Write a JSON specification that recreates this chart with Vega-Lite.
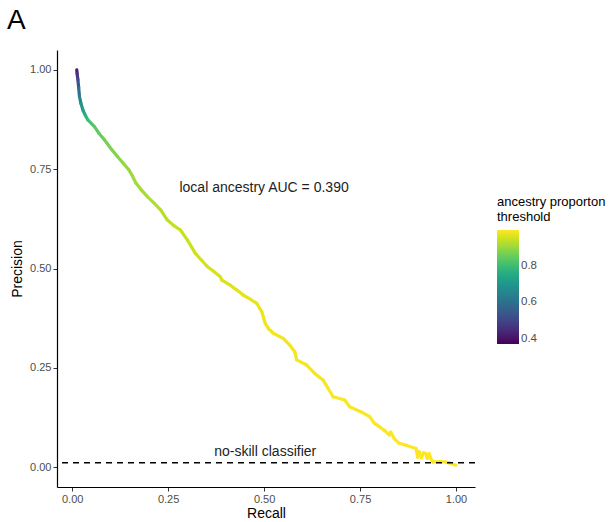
{
  "$schema": "https://vega.github.io/schema/vega-lite/v6.json",
  "width": 418,
  "height": 437,
  "autosize": {"type": "none"},
  "padding": {"left": 57, "top": 50, "right": 138, "bottom": 35},
  "background": "white",
  "config": {
    "font": "Liberation Sans",
    "view": {"stroke": null},
    "axis": {"grid": false, "domainColor": "black", "domainWidth": 1.2, "tickColor": "#333333", "tickSize": 4, "labelColor": "#4d4d4d", "labelFontSize": 11, "labelFont": "Liberation Sans", "titleFont": "Liberation Sans", "titleFontSize": 14, "titleFontWeight": "normal", "titleColor": "black"}
  },
  "title": {"text": "A", "anchor": "start", "frame": "group", "dx": -50, "dy": 28, "offset": 21, "baseline": "alphabetic", "fontSize": 28, "fontWeight": "normal", "font": "Liberation Sans", "color": "black"},
  "layer": [
    {
      "data": {"values": [
        {"recall": 0.012, "precision": 1.000, "threshold": 0.42},
        {"recall": 0.013, "precision": 0.990, "threshold": 0.47},
        {"recall": 0.015, "precision": 0.975, "threshold": 0.53},
        {"recall": 0.017, "precision": 0.955, "threshold": 0.60},
        {"recall": 0.019, "precision": 0.933, "threshold": 0.65},
        {"recall": 0.023, "precision": 0.915, "threshold": 0.70},
        {"recall": 0.028, "precision": 0.899, "threshold": 0.74},
        {"recall": 0.034, "precision": 0.886, "threshold": 0.78},
        {"recall": 0.041, "precision": 0.874, "threshold": 0.81},
        {"recall": 0.050, "precision": 0.865, "threshold": 0.83},
        {"recall": 0.058, "precision": 0.857, "threshold": 0.84},
        {"recall": 0.070, "precision": 0.840, "threshold": 0.855},
        {"recall": 0.084, "precision": 0.824, "threshold": 0.87},
        {"recall": 0.100, "precision": 0.803, "threshold": 0.88},
        {"recall": 0.118, "precision": 0.782, "threshold": 0.89},
        {"recall": 0.133, "precision": 0.765, "threshold": 0.90},
        {"recall": 0.148, "precision": 0.748, "threshold": 0.905},
        {"recall": 0.157, "precision": 0.733, "threshold": 0.91},
        {"recall": 0.166, "precision": 0.715, "threshold": 0.915},
        {"recall": 0.180, "precision": 0.698, "threshold": 0.92},
        {"recall": 0.196, "precision": 0.681, "threshold": 0.925},
        {"recall": 0.214, "precision": 0.664, "threshold": 0.93},
        {"recall": 0.231, "precision": 0.647, "threshold": 0.935},
        {"recall": 0.248, "precision": 0.622, "threshold": 0.94},
        {"recall": 0.265, "precision": 0.608, "threshold": 0.945},
        {"recall": 0.282, "precision": 0.597, "threshold": 0.948},
        {"recall": 0.300, "precision": 0.572, "threshold": 0.95},
        {"recall": 0.321, "precision": 0.538, "threshold": 0.955},
        {"recall": 0.336, "precision": 0.522, "threshold": 0.958},
        {"recall": 0.352, "precision": 0.505, "threshold": 0.96},
        {"recall": 0.370, "precision": 0.492, "threshold": 0.962},
        {"recall": 0.386, "precision": 0.479, "threshold": 0.965},
        {"recall": 0.390, "precision": 0.471, "threshold": 0.967},
        {"recall": 0.412, "precision": 0.458, "threshold": 0.97},
        {"recall": 0.430, "precision": 0.445, "threshold": 0.972},
        {"recall": 0.446, "precision": 0.433, "threshold": 0.975},
        {"recall": 0.465, "precision": 0.422, "threshold": 0.977},
        {"recall": 0.481, "precision": 0.412, "threshold": 0.98},
        {"recall": 0.494, "precision": 0.391, "threshold": 0.982},
        {"recall": 0.503, "precision": 0.362, "threshold": 0.985},
        {"recall": 0.512, "precision": 0.348, "threshold": 0.987},
        {"recall": 0.524, "precision": 0.337, "threshold": 0.988},
        {"recall": 0.550, "precision": 0.324, "threshold": 0.99},
        {"recall": 0.567, "precision": 0.307, "threshold": 0.99},
        {"recall": 0.580, "precision": 0.290, "threshold": 0.99},
        {"recall": 0.585, "precision": 0.270, "threshold": 0.992},
        {"recall": 0.611, "precision": 0.257, "threshold": 0.992},
        {"recall": 0.632, "precision": 0.236, "threshold": 0.993},
        {"recall": 0.654, "precision": 0.219, "threshold": 0.994},
        {"recall": 0.667, "precision": 0.198, "threshold": 0.995},
        {"recall": 0.680, "precision": 0.177, "threshold": 0.995},
        {"recall": 0.710, "precision": 0.169, "threshold": 0.996},
        {"recall": 0.723, "precision": 0.152, "threshold": 0.997},
        {"recall": 0.753, "precision": 0.139, "threshold": 0.997},
        {"recall": 0.775, "precision": 0.127, "threshold": 0.998},
        {"recall": 0.788, "precision": 0.110, "threshold": 0.998},
        {"recall": 0.800, "precision": 0.102, "threshold": 0.999},
        {"recall": 0.813, "precision": 0.093, "threshold": 0.999},
        {"recall": 0.826, "precision": 0.081, "threshold": 0.999},
        {"recall": 0.830, "precision": 0.088, "threshold": 0.999},
        {"recall": 0.839, "precision": 0.072, "threshold": 1.0},
        {"recall": 0.852, "precision": 0.060, "threshold": 1.0},
        {"recall": 0.870, "precision": 0.055, "threshold": 1.0},
        {"recall": 0.896, "precision": 0.047, "threshold": 1.0},
        {"recall": 0.900, "precision": 0.025, "threshold": 1.0},
        {"recall": 0.904, "precision": 0.039, "threshold": 1.0},
        {"recall": 0.910, "precision": 0.024, "threshold": 1.0},
        {"recall": 0.915, "precision": 0.036, "threshold": 1.0},
        {"recall": 0.921, "precision": 0.034, "threshold": 1.0},
        {"recall": 0.925, "precision": 0.022, "threshold": 1.0},
        {"recall": 0.930, "precision": 0.034, "threshold": 1.0},
        {"recall": 0.935, "precision": 0.020, "threshold": 1.0},
        {"recall": 0.940, "precision": 0.013, "threshold": 1.0},
        {"recall": 0.960, "precision": 0.014, "threshold": 1.0},
        {"recall": 0.973, "precision": 0.013, "threshold": 1.0},
        {"recall": 0.985, "precision": 0.010, "threshold": 1.0},
        {"recall": 1.000, "precision": 0.005, "threshold": 1.0}
      ]},
      "transform": [
        {"window": [{"op": "lead", "field": "recall", "as": "recall2"}, {"op": "lead", "field": "precision", "as": "precision2"}]},
        {"filter": "datum.recall2 != null"}
      ],
      "mark": {"type": "rule", "strokeWidth": 3.2, "strokeCap": "round"},
      "encoding": {
        "x": {"field": "recall", "type": "quantitative", "title": "Recall",
              "scale": {"domain": [-0.0395, 1.0495], "nice": false, "zero": false},
              "axis": {"values": [0, 0.25, 0.5, 0.75, 1], "format": ".2f", "labelPadding": 2, "titlePadding": 2}},
        "y": {"field": "precision", "type": "quantitative", "title": "Precision",
              "scale": {"domain": [-0.05, 1.05], "nice": false, "zero": false},
              "axis": {"values": [0, 0.25, 0.5, 0.75, 1], "format": ".2f", "labelPadding": 2, "titlePadding": 5}},
        "x2": {"field": "recall2"},
        "y2": {"field": "precision2"},
        "color": {"field": "threshold", "type": "quantitative", "title": ["ancestry proporton", "threshold"],
                  "scale": {"scheme": "viridis", "domain": [0.37, 1.0], "nice": false, "zero": false},
                  "legend": {"orient": "none", "legendX": 440, "legendY": 146, "values": [0.4, 0.6, 0.8], "gradientLength": 114, "gradientThickness": 22, "labelOverlap": false, "labelFontSize": 11.5, "labelColor": "#4d4d4d", "titleFontSize": 13, "titleFontWeight": "normal", "titleColor": "black", "titleFont": "Liberation Sans", "labelFont": "Liberation Sans", "titlePadding": 6, "titleLineHeight": 15, "gradientStrokeWidth": 0, "titleLimit": 200}}
      }
    },
    {
      "data": {"values": [{"noskill": 0.011}]},
      "mark": {"type": "rule", "strokeDash": [6, 5], "strokeWidth": 1.3, "color": "black"},
      "encoding": {"y": {"field": "noskill", "type": "quantitative"}}
    },
    {
      "data": {"values": [
        {"x": 0.500, "y": 0.703, "label": "local ancestry AUC = 0.390"},
        {"x": 0.503, "y": 0.038, "label": "no-skill classifier"}
      ]},
      "mark": {"type": "text", "fontSize": 14, "font": "Liberation Sans", "color": "#222222", "baseline": "middle", "align": "center"},
      "encoding": {
        "x": {"field": "x", "type": "quantitative"},
        "y": {"field": "y", "type": "quantitative"},
        "text": {"field": "label"}
      }
    }
  ]
}
